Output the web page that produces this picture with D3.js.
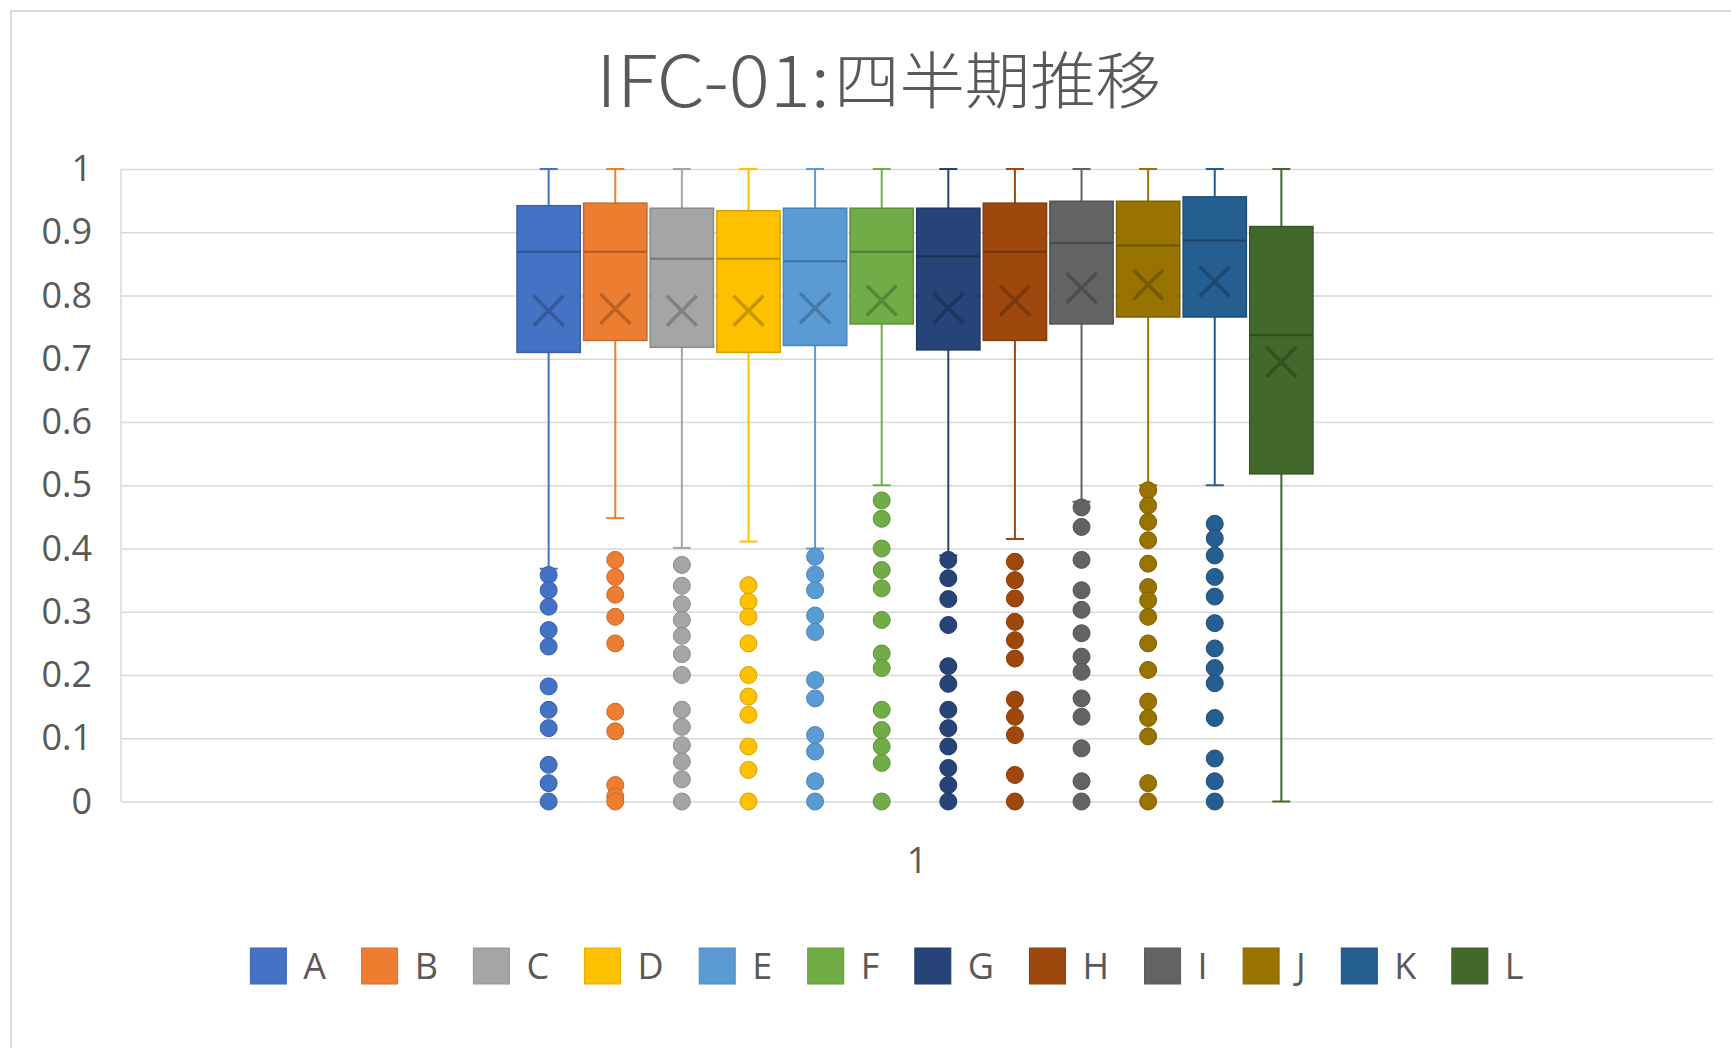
<!DOCTYPE html>
<html>
<head>
<meta charset="utf-8">
<script src="https://cdn.jsdelivr.net/npm/d3@7"></script>
<style>
  html, body { margin: 0; padding: 0; background: #fff; }
  svg { display: block; }
</style>
</head>
<body>
<div id="chart"></div>
<script>
const categories = ['1']
const seriesNames = ['A', 'B', 'C', 'D', 'E', 'F', 'G', 'H', 'I', 'J', 'K', 'L']
const seriesColors = ['#4472C4', '#ED7D31', '#A5A5A5', '#FFC000', '#5B9BD5', '#70AD47',
  '#264478', '#9E480E', '#636363', '#997300', '#255E91', '#43682B']

// box statistics per series
const q1 = [0.710, 0.729, 0.718, 0.710, 0.721, 0.755, 0.714, 0.729, 0.755, 0.766, 0.766, 0.518]
const medians = [0.869, 0.869, 0.858, 0.858, 0.854, 0.869, 0.862, 0.869, 0.883, 0.879, 0.887, 0.737]
const q3 = [0.942, 0.946, 0.938, 0.934, 0.938, 0.938, 0.938, 0.946, 0.949, 0.949, 0.956, 0.909]
const means = [0.776, 0.779, 0.776, 0.776, 0.780, 0.792, 0.780, 0.792, 0.812, 0.817, 0.822, 0.695]
const whiskerLow = [0.368, 0.448, 0.401, 0.411, 0.400, 0.500, 0.389, 0.415, 0.474, 0.500, 0.500, 0]
const whiskerHigh = [1, 1, 1, 1, 1, 1, 1, 1, 1, 1, 1, 1]

const outliers = [
  [0.358, 0.334, 0.308, 0.271, 0.245, 0.182, 0.145, 0.116, 0.058, 0.029, 0],
  [0.382, 0.355, 0.327, 0.292, 0.25, 0.142, 0.111, 0.026, 0.008, 0],
  [0.374, 0.341, 0.312, 0.287, 0.262, 0.233, 0.2, 0.145, 0.118, 0.089, 0.063, 0.035, 0],
  [0.342, 0.316, 0.292, 0.25, 0.2, 0.166, 0.137, 0.087, 0.05, 0],
  [0.387, 0.359, 0.334, 0.294, 0.268, 0.192, 0.163, 0.105, 0.079, 0.032, 0],
  [0.476, 0.447, 0.4, 0.366, 0.337, 0.287, 0.234, 0.211, 0.145, 0.113, 0.087, 0.061, 0],
  [0.382, 0.353, 0.32, 0.279, 0.214, 0.186, 0.145, 0.116, 0.087, 0.053, 0.026, 0],
  [0.379, 0.35, 0.321, 0.284, 0.255, 0.226, 0.161, 0.134, 0.105, 0.042, 0],
  [0.465, 0.434, 0.382, 0.334, 0.303, 0.266, 0.229, 0.205, 0.163, 0.134, 0.084, 0.032, 0],
  [0.492, 0.468, 0.442, 0.413, 0.376, 0.339, 0.318, 0.292, 0.25, 0.208, 0.158, 0.132, 0.103, 0.029, 0],
  [0.439, 0.416, 0.389, 0.355, 0.324, 0.282, 0.242, 0.211, 0.187, 0.132, 0.068, 0.032, 0],
  []
]

const yTicks = [0, 0.1, 0.2, 0.3, 0.4, 0.5, 0.6, 0.7, 0.8, 0.9, 1]
const titleCode = 'IFC-01:'
const titleText = '四半期推移'

const W = 1731, H = 1048
const plot = { left: 121, right: 1713, top: 169, bottom: 801.5 }
const textColor = '#595959'
const gridColor = '#D9D9D9'
const font = '"Open Sans", "Noto Sans", sans-serif'

const svg = d3.select('#chart').append('svg')
    .attr('width', W)
    .attr('height', H)

svg.append('rect')
    .attr('x', 11).attr('y', 11)
    .attr('width', W + 20).attr('height', H + 20)
    .attr('fill', '#fff')
    .attr('stroke', gridColor)
    .attr('stroke-width', 2)

// title (latin part is a narrow face in the original, so squeeze it)
svg.append('text')
    .attr('x', 596).attr('y', 107)
    .attr('textLength', 234)
    .attr('lengthAdjust', 'spacingAndGlyphs')
    .style('font-family', '"Noto Sans CJK JP", sans-serif')
    .style('font-weight', 300)
    .style('font-size', '72px')
    .attr('fill', textColor)
    .text(titleCode)
svg.append('text')
    .attr('x', 834).attr('y', 104)
    .attr('textLength', 327)
    .attr('lengthAdjust', 'spacingAndGlyphs')
    .style('font-family', '"Noto Sans CJK JP", sans-serif')
    .style('font-weight', 300)
    .style('font-size', '62px')
    .attr('fill', textColor)
    .text(titleText)

const y = d3.scaleLinear()
    .domain([0, 1])
    .range([plot.bottom, plot.top])

const xCat = d3.scaleBand()
    .domain(categories)
    .range([plot.left, plot.right])

const groupWidth = xCat.bandwidth() * 0.5
const groupCenter = xCat(categories[0]) + xCat.bandwidth() / 2 - 2

const xSeries = d3.scaleBand()
    .domain(seriesNames)
    .range([groupCenter - groupWidth / 2, groupCenter + groupWidth / 2])
    .paddingInner(0.05)

// gridlines
const grid = svg.append('g')
    .attr('transform', `translate(${plot.left},0)`)
    .call(d3.axisLeft(y).tickValues(yTicks).tickSize(-(plot.right - plot.left)).tickFormat(''))
grid.select('.domain').remove()
grid.selectAll('line').attr('stroke', gridColor).attr('stroke-width', 1.5)

svg.append('line')
    .attr('x1', plot.left).attr('x2', plot.left)
    .attr('y1', plot.top).attr('y2', plot.bottom)
    .attr('stroke', gridColor).attr('stroke-width', 1.5)

// y labels
const yAxis = svg.append('g')
    .attr('transform', `translate(${plot.left},0)`)
    .call(d3.axisLeft(y).tickValues(yTicks).tickSize(0).tickPadding(29).tickFormat(d3.format('')))
yAxis.select('.domain').remove()
yAxis.selectAll('text')
    .style('font-family', font)
    .style('font-size', '36px')
    .attr('fill', textColor)

// x label
const xAxis = svg.append('g')
    .attr('transform', `translate(0,${plot.bottom})`)
    .call(d3.axisBottom(xCat).tickSize(0).tickPadding(46))
xAxis.select('.domain').remove()
xAxis.selectAll('text')
    .style('font-family', font)
    .style('font-size', '36px')
    .attr('fill', textColor)

// boxes
const bw = xSeries.bandwidth()
seriesNames.forEach((name, i) => {
  const c = seriesColors[i]
  const dark = d3.color(c).darker(0.5).formatHex()
  const darker = d3.color(c).darker(0.9).formatHex()
  const x0 = xSeries(name)
  const cx = x0 + bw / 2
  const g = svg.append('g')

  // whiskers
  g.append('line')
      .attr('x1', cx).attr('x2', cx)
      .attr('y1', y(whiskerHigh[i])).attr('y2', y(q3[i]))
      .attr('stroke', c).attr('stroke-width', 2)
  g.append('line')
      .attr('x1', cx).attr('x2', cx)
      .attr('y1', y(q1[i])).attr('y2', y(whiskerLow[i]))
      .attr('stroke', c).attr('stroke-width', 2)
  ;[whiskerHigh[i], whiskerLow[i]].forEach(v => {
    g.append('line')
        .attr('x1', cx - 9).attr('x2', cx + 9)
        .attr('y1', y(v)).attr('y2', y(v))
        .attr('stroke', c).attr('stroke-width', 2)
  })

  // outlier dots
  g.selectAll('circle')
    .data(outliers[i])
    .enter().append('circle')
      .attr('cx', cx)
      .attr('cy', d => y(d))
      .attr('r', 8.5)
      .attr('fill', c)
      .attr('stroke', dark)
      .attr('stroke-width', 1)

  // box
  g.append('rect')
      .attr('x', x0).attr('y', y(q3[i]))
      .attr('width', bw).attr('height', y(q1[i]) - y(q3[i]))
      .attr('fill', c)
      .attr('stroke', dark)
      .attr('stroke-width', 1.5)

  g.append('line')
      .attr('x1', x0).attr('x2', x0 + bw)
      .attr('y1', y(medians[i])).attr('y2', y(medians[i]))
      .attr('stroke', darker).attr('stroke-width', 2)

  const my = y(means[i])
  const s = 15
  g.append('path')
      .attr('d', `M${cx - s},${my - s}L${cx + s},${my + s}M${cx + s},${my - s}L${cx - s},${my + s}`)
      .attr('stroke', darker)
      .attr('stroke-opacity', 0.8)
      .attr('stroke-width', 3.5)
      .attr('fill', 'none')
})

// legend
const legend = svg.append('g')
const items = seriesNames.map((name, i) => {
  const g = legend.append('g')
  g.append('rect')
      .attr('x', 0).attr('y', 0)
      .attr('width', 36).attr('height', 36)
      .attr('fill', seriesColors[i])
      .attr('stroke', d3.color(seriesColors[i]).darker(0.3))
      .attr('stroke-width', 1)
  const t = g.append('text')
      .attr('x', 53).attr('y', 31)
      .style('font-family', font)
      .style('font-size', '36px')
      .attr('fill', textColor)
      .text(name)
  return { g, w: 53 + t.node().getComputedTextLength() }
})
const gap = 35.5
const total = d3.sum(items, d => d.w) + gap * (items.length - 1)
let lx = 887 - total / 2
items.forEach(it => {
  it.g.attr('transform', `translate(${lx},948)`)
  lx += it.w + gap
})
</script>
</body>
</html>
